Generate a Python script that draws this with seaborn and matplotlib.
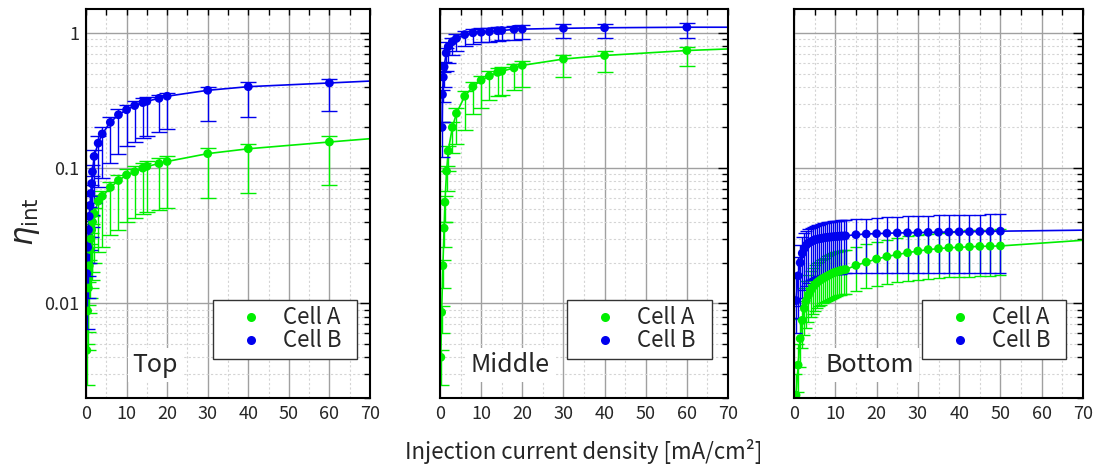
import matplotlib
matplotlib.use("Agg")
import matplotlib.pyplot as plt
from matplotlib.lines import Line2D
from matplotlib.ticker import MultipleLocator, LogLocator, FixedLocator, NullFormatter
import numpy as np
import pandas as pd
import seaborn as sns

sns.set_theme(style="white")
plt.rcParams["font.family"] = ["Noto Sans CJK JP", "DejaVu Sans"]
plt.rcParams["mathtext.fontset"] = "dejavusans"

GREEN = "#00ee00"
BLUE = "#0000ee"

# ---------------- Top ----------------
top_x = [0.2, 0.4, 0.6, 0.8, 1.0, 1.2, 1.4, 1.6, 2, 3, 4, 6, 8, 10, 12, 14, 15, 18, 20, 30, 40, 60]
top_a = [0.0045, 0.0088, 0.013, 0.019, 0.025, 0.030, 0.035, 0.040, 0.046, 0.057, 0.062, 0.072,
         0.081, 0.089, 0.094, 0.100, 0.103, 0.108, 0.112, 0.128, 0.139, 0.156]
top_a_hi = [0.005, 0.0097, 0.0143, 0.021, 0.0275, 0.033, 0.0385, 0.044, 0.051, 0.063, 0.068, 0.079,
            0.089, 0.098, 0.103, 0.110, 0.113, 0.119, 0.122, 0.140, 0.151, 0.172]
top_a_lo = [0.0025, 0.0045, 0.0062, 0.0085, 0.011, 0.013, 0.015, 0.017, 0.020, 0.024, 0.026, 0.032,
            0.035, 0.040, 0.043, 0.046, 0.047, 0.049, 0.051, 0.060, 0.066, 0.075]
top_b = [0.0166, 0.026, 0.035, 0.044, 0.053, 0.065, 0.077, 0.094, 0.122, 0.153, 0.179, 0.218,
         0.248, 0.270, 0.290, 0.305, 0.312, 0.328, 0.340, 0.376, 0.400, 0.426]
top_b_hi = [0.020, 0.031, 0.041, 0.052, 0.062, 0.075, 0.088, 0.105, 0.135, 0.172, 0.200, 0.240,
            0.272, 0.295, 0.315, 0.330, 0.335, 0.350, 0.360, 0.400, 0.430, 0.456]
top_b_lo = [0.0065, 0.011, 0.016, 0.020, 0.025, 0.031, 0.037, 0.045, 0.055, 0.072, 0.084, 0.109,
            0.128, 0.145, 0.156, 0.168, 0.172, 0.185, 0.194, 0.224, 0.240, 0.263]
top_tail = [0.165, 0.44]   # fitted curve value at 70 mA/cm2 (Cell A, Cell B)

# ---------------- Middle ----------------
mid_xa = [0.2, 0.4, 0.7, 1.0, 1.2, 1.6, 2, 3, 4, 6, 8, 10, 12, 14, 15, 18, 20, 30, 40, 60]
mid_a = [0.004, 0.0086, 0.019, 0.036, 0.056, 0.095, 0.134, 0.20, 0.254, 0.34, 0.40, 0.446,
         0.48, 0.51, 0.52, 0.55, 0.575, 0.64, 0.68, 0.74]
mid_a_hi = [0.0045, 0.0095, 0.021, 0.040, 0.062, 0.104, 0.146, 0.22, 0.28, 0.37, 0.43, 0.48,
            0.52, 0.55, 0.56, 0.59, 0.62, 0.69, 0.73, 0.79]
mid_a_lo = [0.0025, 0.006, 0.013, 0.026, 0.040, 0.068, 0.096, 0.13, 0.15, 0.19, 0.25, 0.28,
            0.32, 0.34, 0.35, 0.38, 0.40, 0.47, 0.51, 0.57]
mid_xb = [0.5, 0.6, 0.8, 1.0, 1.5, 2, 3, 4, 6, 8, 10, 12, 14, 15, 18, 20, 30, 40, 60]
mid_b = [0.20, 0.35, 0.47, 0.56, 0.71, 0.79, 0.86, 0.91, 0.97, 1.0, 1.01, 1.02, 1.035, 1.04,
         1.06, 1.065, 1.08, 1.09, 1.10]
mid_b_hi = [0.22, 0.38, 0.51, 0.61, 0.77, 0.85, 0.92, 0.98, 1.04, 1.07, 1.08, 1.09, 1.10, 1.11,
            1.13, 1.14, 1.16, 1.17, 1.18]
mid_b_lo = [0.12, 0.22, 0.31, 0.40, 0.52, 0.60, 0.68, 0.74, 0.80, 0.83, 0.85, 0.86, 0.87, 0.88,
            0.89, 0.90, 0.91, 0.91, 0.92]
mid_tail = [0.76, 1.10]

# ---------------- Bottom ----------------
bot_x = [0.5, 1.0, 1.5, 2.0, 2.5, 3.0, 3.5, 4.0, 4.5, 5.0, 5.5, 6.0, 6.5, 7.0, 7.5, 8.0,
         8.5, 9.0, 9.5, 10.0, 10.5, 11.0, 11.5, 12.0, 12.5, 15.0, 17.5, 20.0, 22.5, 25.0,
         27.5, 30.0, 32.5, 35.0, 37.5, 40.0, 42.5, 45.0, 47.5, 50.0]
bot_a = [0.0021, 0.0035, 0.0055, 0.0075, 0.0092, 0.0105, 0.0115, 0.0124, 0.0131, 0.0137,
         0.0142, 0.0146, 0.0150, 0.0153, 0.0156, 0.0159, 0.0162, 0.0165, 0.0168, 0.0170,
         0.0172, 0.0174, 0.0176, 0.0177, 0.0178, 0.0191, 0.0202, 0.0213, 0.0222, 0.0230,
         0.0237, 0.0244, 0.0250, 0.0254, 0.0258, 0.0260, 0.0262, 0.0264, 0.0265, 0.0266]
bot_a_hi = [0.0030, 0.0050, 0.0077, 0.0105, 0.0129, 0.0147, 0.0161, 0.0174, 0.0183, 0.0192,
            0.0199, 0.0204, 0.0210, 0.0214, 0.0218, 0.0223, 0.0227, 0.0231, 0.0235, 0.0238,
            0.0241, 0.0244, 0.0246, 0.0248, 0.0250, 0.0262, 0.0274, 0.0285, 0.0295, 0.0304,
            0.0313, 0.0320, 0.0328, 0.0334, 0.0339, 0.0343, 0.0346, 0.0349, 0.0351, 0.0353]
bot_a_lo = [0.0013, 0.0022, 0.0034, 0.0047, 0.0058, 0.0066, 0.0073, 0.0079, 0.0084, 0.0088,
            0.0092, 0.0095, 0.0098, 0.0100, 0.0102, 0.0104, 0.0106, 0.0108, 0.0110, 0.0112,
            0.0113, 0.0115, 0.0116, 0.0117, 0.0118, 0.0124, 0.0130, 0.0135, 0.0140, 0.0144,
            0.0147, 0.0150, 0.0152, 0.0154, 0.0156, 0.0157, 0.0158, 0.0159, 0.0160, 0.0161]
bot_b = [0.0105, 0.0160, 0.0200, 0.0235, 0.0255, 0.0270, 0.0280, 0.0285, 0.0290, 0.0295,
         0.0298, 0.0300, 0.0302, 0.0304, 0.0306, 0.0308, 0.0309, 0.0310, 0.0311, 0.0312,
         0.0313, 0.0314, 0.0315, 0.0315, 0.0316, 0.0322, 0.0326, 0.0328, 0.0330, 0.0332,
         0.0333, 0.0334, 0.0335, 0.0336, 0.0337, 0.0338, 0.0339, 0.0340, 0.0341, 0.0342]
bot_b_hi = [0.0160, 0.0220, 0.0270, 0.0310, 0.0330, 0.0345, 0.0355, 0.0360, 0.0367, 0.0373,
            0.0378, 0.0383, 0.0387, 0.0390, 0.0394, 0.0397, 0.0400, 0.0402, 0.0404, 0.0406,
            0.0408, 0.0410, 0.0412, 0.0414, 0.0416, 0.0420, 0.0424, 0.0428, 0.0432, 0.0436,
            0.0440, 0.0443, 0.0446, 0.0448, 0.0450, 0.0452, 0.0453, 0.0454, 0.0455, 0.0456]
bot_b_lo = [0.0060, 0.0078, 0.0095, 0.0110, 0.0125, 0.0135, 0.0142, 0.0148, 0.0152, 0.0155,
            0.0157, 0.0159, 0.0160, 0.0161, 0.0162, 0.0163, 0.0163, 0.0164, 0.0164, 0.0165,
            0.0165, 0.0166, 0.0166, 0.0167, 0.0167, 0.0167, 0.0168, 0.0168, 0.0168, 0.0168,
            0.0168, 0.0169, 0.0169, 0.0169, 0.0169, 0.0169, 0.0169, 0.0169, 0.0169, 0.0169]
bot_tail = [0.0293, 0.0348]

TAIL_X = 70
series_labels = ["Cell A", "Cell B"]
ytick_vals = [0.01, 0.1, 1]
ytick_text = ["0.01", "0.1", "1"]
xtick_vals = [0, 10, 20, 30, 40, 50, 60, 70]

W, H = 1094, 471
AX_BOTTOM, AX_HEIGHT = 398, 389   # pixel rows of the axes frames

panels = [
    dict(name="Top", a=(top_x, top_a, top_a_lo, top_a_hi), b=(top_x, top_b, top_b_lo, top_b_hi),
         tail=top_tail, cap=6.0, pos=(86, 284), leg=(213, 357), tx=0.243),
    dict(name="Middle", a=(mid_xa, mid_a, mid_a_lo, mid_a_hi), b=(mid_xb, mid_b, mid_b_lo, mid_b_hi),
         tail=mid_tail, cap=6.0, pos=(440, 288), leg=(567, 712), tx=0.243),
    dict(name="Bottom", a=(bot_x, bot_a, bot_a_lo, bot_a_hi), b=(bot_x, bot_b, bot_b_lo, bot_b_hi),
         tail=bot_tail, cap=4.5, pos=(794, 289), leg=(922, 1066), tx=0.263),
]

fig = plt.figure(figsize=(W / 100, H / 100), dpi=100)
fig.patch.set_facecolor("white")

for i, p in enumerate(panels):
    left, width = p["pos"]
    ax = fig.add_axes([left / W, (H - AX_BOTTOM) / H, width / W, AX_HEIGHT / H])
    ax.set_yscale("log")
    ax.set_xlim(0, 70)
    ax.set_ylim(0.002, 1.5)

    for (xs, ys, lo, hi), tail, col in zip([p["a"], p["b"]], p["tail"], [GREEN, BLUE]):
        xs = np.asarray(xs, float)
        ys = np.asarray(ys, float)
        lo = np.asarray(lo, float)
        hi = np.asarray(hi, float)
        line_df = pd.DataFrame({"x": np.append(xs, TAIL_X), "y": np.append(ys, tail)})
        sns.lineplot(data=line_df, x="x", y="y", color=col, lw=1.2, ax=ax,
                     estimator=None, sort=True, legend=False, zorder=3)
        ax.errorbar(xs, ys, yerr=[ys - lo, hi - ys], fmt="none", ecolor=col,
                    elinewidth=1.0, capsize=p["cap"], capthick=1.0, zorder=3)
        sns.scatterplot(x=xs, y=ys, color=col, s=40, edgecolor="none", ax=ax,
                        legend=False, zorder=4)

    ax.set_xlabel("")
    ax.set_ylabel("")
    ax.xaxis.set_major_locator(FixedLocator(xtick_vals))
    ax.xaxis.set_minor_locator(MultipleLocator(5))
    ax.yaxis.set_major_locator(FixedLocator(ytick_vals))
    ax.yaxis.set_minor_locator(LogLocator(base=10, subs=np.arange(2, 10)))
    ax.yaxis.set_minor_formatter(NullFormatter())
    if i == 0:
        ax.set_yticklabels(ytick_text)
    else:
        ax.set_yticklabels([])
    ax.set_xticklabels([str(v) for v in xtick_vals])

    ax.grid(which="major", color="#a0a0a0", lw=1.0)
    ax.grid(which="minor", color="#d4d4d4", lw=0.8, ls=(0, (2, 2)))
    ax.set_axisbelow(True)

    ax.tick_params(which="both", direction="in", top=True, right=True,
                   color="black", labelsize=13, width=1.0)
    ax.tick_params(axis="x", which="both", length=4, pad=5)
    ax.tick_params(axis="y", which="major", length=7, pad=5)
    ax.tick_params(axis="y", which="minor", length=4)
    for sp in ax.spines.values():
        sp.set_color("black")
        sp.set_linewidth(1.5)
        sp.set_zorder(6)

    # legend box spans a fixed pixel range inside the panel
    lx0, lx1 = p["leg"]
    box = ((lx0 - left) / width, (AX_BOTTOM - 359) / AX_HEIGHT, (lx1 - lx0) / width, 62 / AX_HEIGHT)
    handles = [Line2D([], [], marker="o", ls="none", color=c, markersize=6.5,
                      markeredgewidth=0) for c in [GREEN, BLUE]]
    leg = ax.legend(handles, series_labels, loc="lower left", bbox_to_anchor=box,
                    mode="expand", borderaxespad=0, fontsize=16,
                    frameon=True, fancybox=False, framealpha=1, edgecolor="#333333",
                    handlelength=2.85, handletextpad=0.0, borderpad=0.3, labelspacing=0.0)
    leg.get_frame().set_linewidth(1.0)
    leg.set_zorder(7)

    ax.text(p["tx"], 0.085, p["name"], transform=ax.transAxes, ha="center", va="center",
            fontsize=18, zorder=5,
            bbox=dict(facecolor="white", edgecolor="none", pad=3))

fig.text(584 / W, 19 / H, "Injection current density [mA/cm²]", ha="center", va="center",
         fontsize=16)
fig.text(27 / W, (H - 222) / H, r"$\eta_{\mathrm{int}}$", ha="center", va="center",
         rotation=90, fontsize=22)

fig.savefig("out.png", dpi=100, facecolor="white")
